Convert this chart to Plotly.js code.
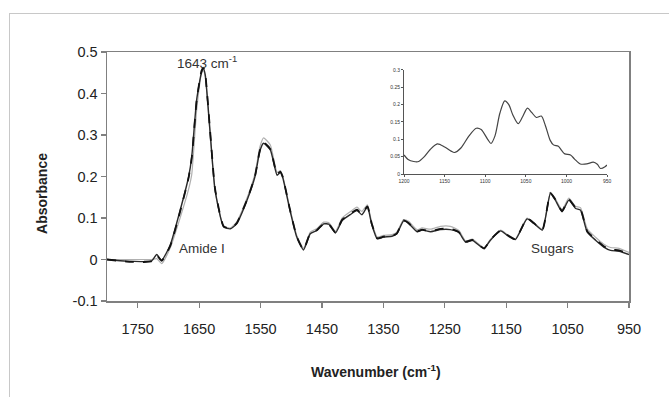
<!DOCTYPE html>
<html>
<head>
<meta charset="utf-8">
<script src="https://cdn.plot.ly/plotly-3.0.1.min.js"></script>
<style>
html,body{margin:0;padding:0;background:#fff;}
#wrap{position:relative;width:669px;height:397px;overflow:hidden;}
#chart{position:absolute;left:0;top:0;width:669px;height:397px;}
#frame{position:absolute;left:9px;top:13px;width:700px;height:420px;border-left:1px solid #c8c8c8;border-top:1px solid #c8c8c8;pointer-events:none;}
</style>
</head>
<body>
<div id="wrap"><div id="chart"></div><div id="frame"></div></div>
<script>
// Main spectra
const wavenumber = [1800,1768,1740,1727,1719,1711,1697,1681,1667,1662,1654,1646,1643,1640,1632,1624,1610,1599,1589,1572,1559,1551,1545,1534,1523,1518,1514,1502,1491,1480,1469,1458,1447,1439,1428,1417,1404,1393,1385,1376,1369,1360,1350,1336,1328,1317,1309,1295,1287,1273,1257,1241,1227,1216,1205,1186,1176,1159,1148,1135,1116,1105,1091,1078,1070,1059,1048,1037,1029,1018,1004,991,980,966,950];
const spectrumA = [0,-0.004,-0.005,-0.003,0.012,-0.002,0.035,0.118,0.2,0.248,0.385,0.452,0.46,0.445,0.305,0.167,0.078,0.074,0.086,0.143,0.2,0.262,0.28,0.264,0.203,0.21,0.198,0.118,0.054,0.023,0.062,0.07,0.086,0.085,0.064,0.094,0.108,0.118,0.108,0.127,0.085,0.05,0.054,0.056,0.062,0.093,0.087,0.067,0.071,0.067,0.072,0.072,0.065,0.042,0.046,0.026,0.046,0.069,0.058,0.048,0.098,0.087,0.071,0.159,0.143,0.115,0.143,0.123,0.119,0.066,0.046,0.03,0.022,0.02,0.012];
const spectrumB = [0,-0.005,-0.006,-0.004,0.01,-0.003,0.033,0.115,0.198,0.245,0.383,0.455,0.462,0.447,0.308,0.17,0.08,0.075,0.087,0.144,0.201,0.263,0.282,0.266,0.205,0.212,0.2,0.12,0.055,0.024,0.063,0.071,0.087,0.086,0.065,0.096,0.11,0.12,0.11,0.128,0.087,0.051,0.055,0.057,0.063,0.094,0.088,0.068,0.072,0.068,0.074,0.074,0.066,0.043,0.047,0.027,0.047,0.07,0.059,0.049,0.099,0.088,0.072,0.16,0.145,0.117,0.145,0.125,0.121,0.068,0.048,0.032,0.024,0.022,0.014];
const spectrumC = [0,0,0,0,0.002,-0.01,0.028,0.1,0.17,0.205,0.36,0.448,0.455,0.44,0.3,0.165,0.08,0.076,0.09,0.148,0.207,0.272,0.293,0.276,0.21,0.214,0.202,0.122,0.058,0.027,0.066,0.075,0.09,0.089,0.068,0.1,0.115,0.126,0.116,0.132,0.09,0.054,0.058,0.06,0.066,0.096,0.092,0.072,0.076,0.073,0.08,0.08,0.07,0.045,0.049,0.028,0.048,0.071,0.06,0.05,0.1,0.089,0.073,0.162,0.147,0.12,0.148,0.128,0.125,0.074,0.053,0.037,0.029,0.027,0.017];
// Inset (1200-950 cm-1)
const insetWavenumber = [1200,1195,1188,1182,1175,1168,1159,1150,1142,1138,1130,1120,1111,1105,1097,1093,1088,1082,1076,1071,1066,1059.5,1054,1048,1043,1037,1031,1026,1020,1016,1010,1006,1002,995,990,983,975,967,962,958,952,950];
const insetAbsorbance = [0.055,0.042,0.036,0.036,0.05,0.07,0.087,0.078,0.066,0.062,0.075,0.11,0.132,0.128,0.1,0.088,0.11,0.175,0.211,0.2,0.17,0.145,0.165,0.19,0.178,0.163,0.167,0.14,0.097,0.084,0.08,0.068,0.058,0.055,0.043,0.029,0.029,0.034,0.028,0.016,0.022,0.026];
// Ticks
const xTicks = [1750,1650,1550,1450,1350,1250,1150,1050,950];
const yTicks = [0.5,0.4,0.3,0.2,0.1,0,-0.1];
const yTickText = ['0.5','0.4','0.3','0.2','0.1','0','-0.1'];
const insetXTicks = [1200,1150,1100,1050,1000,950];
const insetYTicks = [0,0.05,0.1,0.15,0.2,0.25,0.3];
const insetYTickText = ['0','0.05','0.1','0.15','0.2','0.25','0.3'];

const font = 'Arial, "Liberation Sans", sans-serif';
const traces = [
  {x: wavenumber, y: spectrumC, mode: 'lines', line: {color: '#b0b0b0', width: 1.2, shape: 'spline', smoothing: 0.5}, xaxis: 'x', yaxis: 'y', hoverinfo: 'skip'},
  {x: wavenumber, y: spectrumA, mode: 'lines', line: {color: '#2a2a2a', width: 1.4, shape: 'spline', smoothing: 0.5}, xaxis: 'x', yaxis: 'y', hoverinfo: 'skip'},
  {x: wavenumber, y: spectrumB, mode: 'lines', line: {color: '#111111', width: 1.8, dash: 'dash', shape: 'spline', smoothing: 0.5}, xaxis: 'x', yaxis: 'y', hoverinfo: 'skip'},
  {x: insetWavenumber, y: insetAbsorbance, mode: 'lines', line: {color: '#444444', width: 1.2, shape: 'spline', smoothing: 0.8}, xaxis: 'x2', yaxis: 'y2', hoverinfo: 'skip'}
];
const layout = {
  width: 669, height: 397,
  margin: {l: 107, r: 40, t: 52, b: 96},
  paper_bgcolor: '#ffffff', plot_bgcolor: '#ffffff',
  showlegend: false,
  font: {family: font, color: '#222222'},
  xaxis: {
    range: [1800, 950], tickvals: xTicks, ticktext: xTicks.map(String),
    ticks: 'outside', ticklen: 5, tickwidth: 1.2, tickcolor: '#808080',
    showline: true, linecolor: '#808080', linewidth: 1.5, mirror: true,
    showgrid: false, zeroline: false, tickfont: {size: 14.5, color: '#222'},
    ticklabelstandoff: 9
  },
  yaxis: {
    range: [-0.1, 0.5], tickvals: yTicks, ticktext: yTickText,
    ticks: 'outside', ticklen: 5, tickwidth: 1.2, tickcolor: '#808080',
    showline: true, linecolor: '#808080', linewidth: 1.5, mirror: true,
    showgrid: false, zeroline: false, tickfont: {size: 14.5, color: '#222'}
  },
  xaxis2: {
    domain: [0.569, 0.958], anchor: 'y2', range: [1200, 950],
    tickvals: insetXTicks, ticktext: insetXTicks.map(String),
    ticks: 'outside', ticklen: 2, tickwidth: 1, tickcolor: '#555',
    showline: true, linecolor: '#555', linewidth: 1,
    showgrid: false, zeroline: false, tickfont: {size: 5, color: '#333'}
  },
  yaxis2: {
    domain: [0.51, 0.928], anchor: 'x2', range: [0, 0.3],
    tickvals: insetYTicks, ticktext: insetYTickText,
    ticks: 'outside', ticklen: 2, tickwidth: 1, tickcolor: '#555',
    showline: true, linecolor: '#555', linewidth: 1,
    showgrid: false, zeroline: false, tickfont: {size: 5, color: '#333'}
  },
  annotations: [
    {x: 1637, y: 0.477, xref: 'x', yref: 'y', text: '1643 cm<sup>-1</sup>', showarrow: false, font: {size: 13.5, color: '#333'}, xanchor: 'center', yanchor: 'middle'},
    {x: 1645, y: 0.027, xref: 'x', yref: 'y', text: 'Amide I', showarrow: false, font: {size: 13.5, color: '#333'}, xanchor: 'center', yanchor: 'middle'},
    {x: 1075, y: 0.027, xref: 'x', yref: 'y', text: 'Sugars', showarrow: false, font: {size: 13.5, color: '#333'}, xanchor: 'center', yanchor: 'middle'},
    {x: -0.1245, y: 0.43, xref: 'paper', yref: 'paper', text: '<b>Absorbance</b>', textangle: -90, showarrow: false, font: {size: 14, color: '#222'}, xanchor: 'center', yanchor: 'middle'},
    {x: 0.515, y: -0.281, xref: 'paper', yref: 'paper', text: '<b>Wavenumber (cm<sup>-1</sup>)</b>', showarrow: false, font: {size: 14, color: '#222'}, xanchor: 'center', yanchor: 'middle'}
  ]
};
Plotly.newPlot('chart', traces, layout, {staticPlot: true, displayModeBar: false});
</script>
</body>
</html>
